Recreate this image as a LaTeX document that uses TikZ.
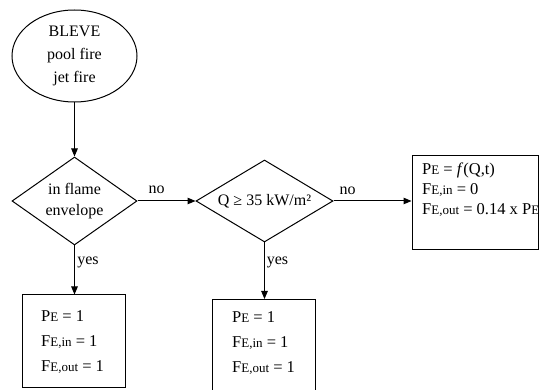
\documentclass[tikz,border=0pt]{standalone}
\usepackage{fontspec}
\setmainfont{Liberation Serif}
\usetikzlibrary{shapes.geometric,arrows.meta}
\newcommand{\subtxt}[1]{{\fontsize{13}{13}\selectfont #1}}
\tikzset{
  base/.style={draw=black, line width=1pt, inner sep=0pt},
  startnode/.style={base, ellipse, minimum width=125pt, minimum height=92pt, align=center,
    font=\fontsize{16}{23}\selectfont},
  decide/.style={base, diamond, align=center, font=\fontsize{16}{21}\selectfont},
  resbox/.style={base, rectangle},
  ln/.style={anchor=base west, inner sep=0pt, font=\fontsize{16.5}{16.5}\selectfont},
  lbl/.style={anchor=base, inner sep=0pt, font=\fontsize{16}{16}\selectfont},
  flow/.style={line width=1pt, -{Triangle[length=8pt,width=6.5pt]}}
}
\begin{document}
\begin{tikzpicture}[x=1pt,y=-1pt]
\useasboundingbox (0,0) rectangle (539,390);
\fill[white] (0,0) rectangle (539,390);

\node[startnode] (e) at (74.5,56) {BLEVE\\pool fire\\jet fire};
\node[decide, minimum width=125pt, minimum height=88pt, aspect=1.4] (d1) at (74.5,201) {in flame\\envelope};
\node[decide, minimum width=137pt, minimum height=82pt, aspect=1.67] (d2) at (264.5,201) {Q ≥ 35 kW/m²};

\node[resbox, minimum width=126pt, minimum height=94pt] (b3) at (475,203) {};
\node[resbox, minimum width=103pt, minimum height=93pt] (b1) at (73.5,341.5) {};
\node[resbox, minimum width=103pt, minimum height=93pt] (b2) at (263.5,346) {};

% text in boxes
\node[ln] (b1a) at (41,322) {P\subtxt{E} = 1};
\node[ln] (b1b) at (41,347) {F\subtxt{E,in} = 1};
\node[ln] (b1c) at (41,372) {F\subtxt{E,out} = 1};

\node[ln] (b2a) at (232,323) {P\subtxt{E} = 1};
\node[ln] (b2b) at (232,348) {F\subtxt{E,in} = 1};
\node[ln] (b2c) at (232,373) {F\subtxt{E,out} = 1};

\node[ln] (b3a) at (422,175) {P\subtxt{E} = \textit{f}(Q,t)};
\node[ln] (b3b) at (422,195) {F\subtxt{E,in} = 0};
\node[ln] (b3c) at (422,215) {F\subtxt{E,out} = 0.14 x P\subtxt{E}};

% connectors
\draw[flow] (e.south) -- (d1.north);
\draw[flow] (d1.east) -- (d2.west);
\draw[flow] (d2.east) -- (d2.east -| b3.west);
\draw[flow] (d1.south) -- (d1.south |- b1.north);
\draw[flow] (d2.south) -- (d2.south |- b2.north);

% labels
\node[lbl] (no1) at (156.5,194) {no};
\node[lbl] (no2) at (347.5,195) {no};
\node[lbl] (yes1) at (88,265) {yes};
\node[lbl] (yes2) at (277.5,265) {yes};
\end{tikzpicture}
\end{document}
